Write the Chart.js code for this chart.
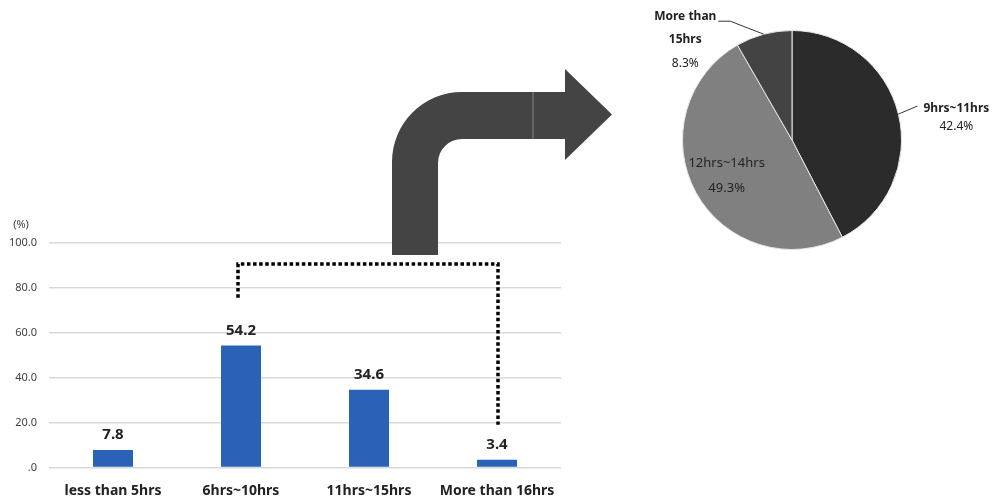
<!DOCTYPE html>
<html>
<head>
<meta charset="utf-8">
<script src="https://cdn.jsdelivr.net/npm/chart.js@4"></script>
<style>
html, body { margin: 0; padding: 0; background: #fff; }
#wrap { position: relative; width: 994px; height: 501px; overflow: hidden; }
#barChart { position: absolute; left: 0; top: 0; }
#pieChart { position: absolute; left: 640px; top: 0; }
</style>
</head>
<body>
<div id="wrap">
  <canvas id="barChart" width="994" height="501"></canvas>
  <canvas id="pieChart" width="354" height="280"></canvas>
</div>
<script>
// bar chart data
const barLabels = ['less than 5hrs', '6hrs~10hrs', '11hrs~15hrs', 'More than 16hrs'];
const barValues = [7.8, 54.2, 34.6, 3.4];
const yTicks = [0, 20, 40, 60, 80, 100];

// pie chart data (breakdown of the 6hrs~10hrs group)
const pieLabels = [['9hrs~11hrs'], ['12hrs~14hrs'], ['More than', '15hrs']];
const pieValues = [42.4, 49.3, 8.3];

const FONT = '"Noto Sans", "DejaVu Sans", sans-serif';
const TEXT = '#222';

// dotted bracket from the 6~10hrs bar to the 16hrs bar (in data units)
const bracket = { from: 1, to: 3, top: 90.5, leftEnd: 75.5, rightEnd: 19 };

// bent arrow shape (page pixels)
const arrow = { x0: 392, x1: 438, bottom: 255, top: 92, band: 47, outerR: 70, innerR: 24, headX: 565, headTop: 69, headBottom: 160, tipX: 612, seamX: 533 };

const barDecor = {
  id: 'barDecor',
  afterDatasetsDraw(chart) {
    const ctx = chart.ctx;
    const xs = chart.scales.x, ys = chart.scales.y;
    const meta = chart.getDatasetMeta(0);

    // value labels
    ctx.save();
    ctx.font = 'bold 15px ' + FONT;
    ctx.fillStyle = TEXT;
    ctx.textAlign = 'center';
    ctx.textBaseline = 'alphabetic';
    meta.data.forEach((bar, i) => {
      ctx.fillText(barValues[i].toFixed(1), bar.x, bar.y - 11);
    });

    // unit label
    ctx.font = '11px ' + FONT;
    ctx.fillStyle = '#404040';
    ctx.textBaseline = 'middle';
    ctx.fillText('(%)', 21, 225);
    ctx.restore();

    // dotted bracket
    const xl = xs.getPixelForValue(bracket.from) - 3;
    const xr = xs.getPixelForValue(bracket.to) + 1;
    ctx.save();
    ctx.strokeStyle = '#000';
    ctx.lineWidth = 3.5;
    ctx.setLineDash([3.5, 2.6]);
    ctx.beginPath();
    ctx.moveTo(xl, ys.getPixelForValue(bracket.leftEnd));
    ctx.lineTo(xl, ys.getPixelForValue(bracket.top));
    ctx.lineTo(xr, ys.getPixelForValue(bracket.top));
    ctx.lineTo(xr, ys.getPixelForValue(bracket.rightEnd));
    ctx.stroke();
    ctx.restore();

    // bent arrow
    const a = arrow;
    const hb = a.top + a.band;
    ctx.save();
    ctx.fillStyle = '#444';
    ctx.beginPath();
    ctx.moveTo(a.x0, a.bottom);
    ctx.lineTo(a.x0, a.top + a.outerR);
    ctx.arc(a.x0 + a.outerR, a.top + a.outerR, a.outerR, Math.PI, Math.PI * 1.5);
    ctx.lineTo(a.headX, a.top);
    ctx.lineTo(a.headX, a.headTop);
    ctx.lineTo(a.tipX, (a.headTop + a.headBottom) / 2);
    ctx.lineTo(a.headX, a.headBottom);
    ctx.lineTo(a.headX, hb);
    ctx.lineTo(a.x1 + a.innerR, hb);
    ctx.arc(a.x1 + a.innerR, hb + a.innerR, a.innerR, Math.PI * 1.5, Math.PI, true);
    ctx.lineTo(a.x1, a.bottom);
    ctx.closePath();
    ctx.fill();
    ctx.strokeStyle = '#9a9a9a';
    ctx.lineWidth = 0.8;
    ctx.beginPath();
    ctx.moveTo(a.seamX, a.top);
    ctx.lineTo(a.seamX, hb);
    ctx.stroke();
    ctx.restore();
  }
};

new Chart(document.getElementById('barChart'), {
  type: 'bar',
  data: {
    labels: barLabels,
    datasets: [{
      data: barValues,
      backgroundColor: '#2962b7',
      borderWidth: 0,
      categoryPercentage: 1,
      barPercentage: 0.3125
    }]
  },
  options: {
    responsive: false,
    animation: false,
    layout: { padding: { left: 0, right: 433, top: 242.5, bottom: 0 } },
    plugins: { legend: { display: false }, tooltip: { enabled: false } },
    scales: {
      x: {
        grid: { display: false },
        border: { display: false },
        ticks: { color: TEXT, font: { family: FONT, size: 14, weight: 'bold' }, padding: 7, maxRotation: 0 },
        afterFit: s => { s.height = 33.5; }
      },
      y: {
        min: 0,
        max: 100,
        afterBuildTicks: s => { s.ticks = yTicks.map(v => ({ value: v })); },
        afterFit: s => { s.width = 49; },
        grid: { color: '#d9d9d9', lineWidth: 1.5, drawTicks: false },
        border: { display: false },
        ticks: {
          color: '#404040',
          font: { family: FONT, size: 11 },
          padding: 12,
          callback: v => v === 0 ? '.0' : v.toFixed(1)
        }
      }
    }
  },
  plugins: [barDecor]
});

// pie label placement relative to the slice's outer edge point
const pieLabelLayout = [
  { inside: false, leader: [[19, -8]], textX: 58, lineY: [-6, 12], bold: true },
  { inside: true, r: 0.68, lineY: [-12, 13] },
  { inside: false, leader: [[-33.5, -13], [-45.5, -13]], textX: -78.5, lineY: [-18, 5, 29], bold: true }
];

const pieDecor = {
  id: 'pieDecor',
  afterDatasetsDraw(chart) {
    const ctx = chart.ctx;
    const meta = chart.getDatasetMeta(0);
    ctx.save();
    ctx.textAlign = 'center';
    ctx.textBaseline = 'middle';
    meta.data.forEach((arc, i) => {
      const lay = pieLabelLayout[i];
      const mid = (arc.startAngle + arc.endAngle) / 2;
      const lines = pieLabels[i].concat([pieValues[i].toFixed(1) + '%']);
      if (lay.inside) {
        const cx = arc.x + Math.cos(mid) * arc.outerRadius * lay.r;
        const cy = arc.y + Math.sin(mid) * arc.outerRadius * lay.r;
        ctx.fillStyle = TEXT;
        ctx.font = '13px ' + FONT;
        lines.forEach((t, k) => ctx.fillText(t, cx, cy + lay.lineY[k]));
        return;
      }
      const ex = arc.x + Math.cos(mid) * arc.outerRadius;
      const ey = arc.y + Math.sin(mid) * arc.outerRadius;
      ctx.strokeStyle = '#333';
      ctx.lineWidth = 1;
      ctx.beginPath();
      ctx.moveTo(ex, ey);
      lay.leader.forEach(p => ctx.lineTo(ex + p[0], ey + p[1]));
      ctx.stroke();
      ctx.fillStyle = TEXT;
      lines.forEach((t, k) => {
        const last = k === lines.length - 1;
        ctx.font = (last ? '' : 'bold ') + '12px ' + FONT;
        ctx.fillText(t, ex + lay.textX, ey + lay.lineY[k]);
      });
    });
    ctx.restore();
  }
};

new Chart(document.getElementById('pieChart'), {
  type: 'pie',
  data: {
    labels: pieLabels.map(l => l.join(' ')),
    datasets: [{
      data: pieValues,
      backgroundColor: ['#2b2b2b', '#808080', '#434343'],
      borderColor: '#e6e6e6',
      borderWidth: 1
    }]
  },
  options: {
    responsive: false,
    animation: false,
    layout: { padding: { left: 42, right: 92, top: 30, bottom: 30 } },
    plugins: { legend: { display: false }, tooltip: { enabled: false } }
  },
  plugins: [pieDecor]
});
</script>
</body>
</html>
